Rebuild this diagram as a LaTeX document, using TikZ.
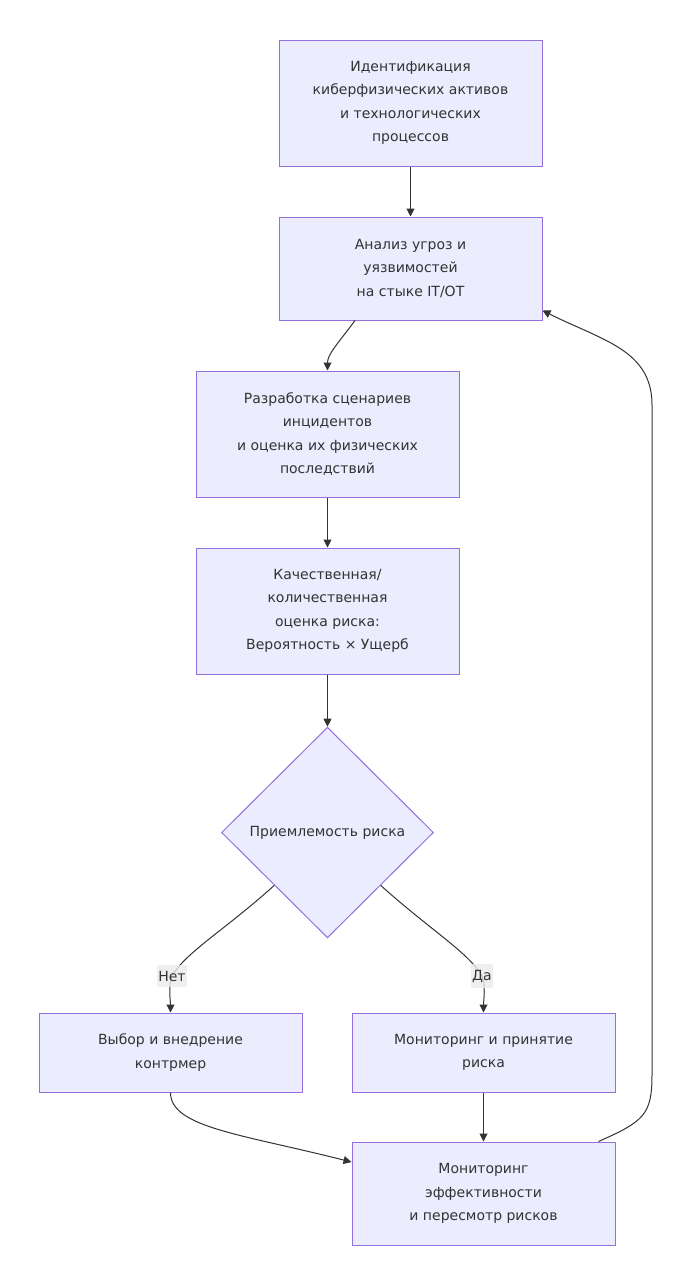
\documentclass[tikz,border=0pt]{standalone}
\usepackage{fontspec}
\setmainfont{DejaVu Sans}
\usetikzlibrary{shapes.geometric}
\usetikzlibrary{arrows.meta}
\usepackage{xcolor}
\definecolor{boxfill}{HTML}{ECECFF}
\definecolor{boxline}{HTML}{9370DB}
\definecolor{edgeclr}{HTML}{333333}
\definecolor{lblfill}{HTML}{EBEBEB}

\begin{document}
\begin{tikzpicture}[x=0.75pt,y=-0.75pt,
  box/.style={draw=boxline,fill=boxfill,line width=0.75pt,minimum width=197.25pt,
    align=center,inner sep=0pt,text=edgeclr,font=\fontsize{10.5}{17.6}\selectfont},
  choice/.style={diamond,draw=boxline,fill=boxfill,line width=0.75pt,minimum width=159pt,
    minimum height=158pt,inner sep=0pt,text=edgeclr,font=\fontsize{10.5}{17.6}\selectfont},
  lbl/.style={fill=lblfill,fill opacity=0.8,text opacity=1,inner xsep=1pt,inner ysep=4pt,
    text=edgeclr,font=\fontsize{10.5}{12}\selectfont},
  arr/.style={draw=edgeclr,line width=0.75pt,-{Triangle[length=6pt,width=6pt]}}]
\useasboundingbox (0,0) rectangle (690,1285);
\node[box,minimum height=94.5pt] (ident) at (410.5,103) {Идентификация\\киберфизических активов\\и технологических\\процессов};
\node[box,minimum height=77.25pt] (threat) at (410.5,268.5) {Анализ угроз и\\уязвимостей\\на стыке IT/OT};
\node[box,minimum height=94.5pt] (scen) at (327.5,434) {Разработка сценариев\\инцидентов\\и оценка их физических\\последствий};
\node[box,minimum height=94.5pt] (assess) at (327.5,611) {Качественная/\\количественная\\оценка риска:\\Вероятность × Ущерб};
\node[choice] (accept) at (327.5,832.5) {Приемлемость риска};
\node[box,minimum height=59.25pt] (counter) at (170.5,1052.5) {Выбор и внедрение\\контрмер};
\node[box,minimum height=59.25pt] (monacc) at (483.5,1052.5) {Мониторинг и принятие\\риска};
\node[box,minimum height=77.25pt] (review) at (483.5,1193.5) {Мониторинг\\эффективности\\и пересмотр рисков};
\coordinate (cnet) at (172,976);
\coordinate (cda) at (482,976);
\coordinate (rlow) at (652,1075);
\coordinate (rhigh) at (652,405);
\draw[arr] (ident) -- (threat);
\draw[arr] ([xshift=-41.6pt]threat.south) .. controls +(-18,24) and +(0,-16) .. (scen.north);
\draw[arr] (scen) -- (assess);
\draw[arr] (assess) -- (accept);
\draw[arr] (accept.south west) .. controls +(-50,45) and +(14,-24) .. (cnet)
  .. controls +(-4,10) and +(0,-12) .. (counter.north);
\draw[arr] (accept.south east) .. controls +(50,45) and +(-14,-24) .. (cda)
  .. controls +(4,10) and +(0,-12) .. (monacc.north);
\draw[arr] (monacc) -- (review);
\draw[arr] (counter.south) .. controls +(0,35) and +(-110,-28) .. ([yshift=23.6pt]review.west);
\draw[arr] ([xshift=-12.75pt]review.north east) .. controls +(45,-20) and +(0,40) .. (rlow) -- (rhigh)
  .. controls +(0,-55) and +(60,30) .. ([yshift=7.5pt]threat.south east);
\node[lbl] (lnet) at (cnet) {Нет};
\node[lbl] (lda) at (cda) {Да};
\end{tikzpicture}
\end{document}
